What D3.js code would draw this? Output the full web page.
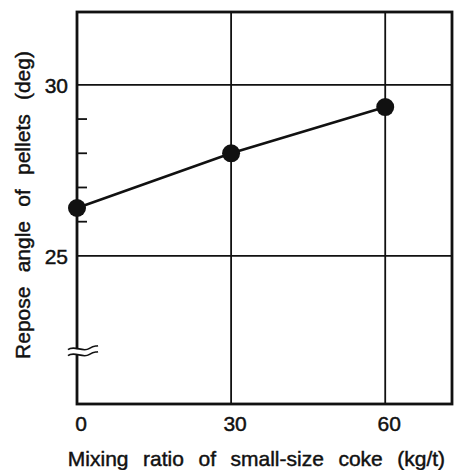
<!DOCTYPE html>
<html><head><meta charset="utf-8">
<script src="https://cdn.jsdelivr.net/npm/d3@7"></script>
<style>body{margin:0;background:#fff}svg{display:block}text{font-family:"Liberation Sans",Arial,sans-serif;fill:#111;stroke:#111;stroke-width:0.45px}</style>
</head><body>
<script>
const mixingRatio = [0, 30, 60];
const reposeAngle = [26.4, 28.0, 29.35];
const xTicks = [0, 30, 60];
const yTicks = [25, 30];
const yMinorTicks = [26, 27, 28, 29];
const xDomain = [0, 73];
const yDomain = [20.67, 32.13];
const yBreakValue = 22.2;
const xTitle = "Mixing ratio of small-size coke (kg/t)";
const yTitle = "Repose angle of pellets (deg)";

const W = 454, H = 470;
const svg = d3.select("body").append("svg").attr("width", W).attr("height", H);
const x = d3.scaleLinear().domain(xDomain).range([77, 452]);
const y = d3.scaleLinear().domain(yDomain).range([404, 12]);
const ink = "#111";

// grid lines
svg.append("g").selectAll("line").data(xTicks.filter(d => d > 0)).join("line")
  .attr("x1", d => x(d)).attr("x2", d => x(d)).attr("y1", y(yDomain[1])).attr("y2", y(yDomain[0]))
  .attr("stroke", ink).attr("stroke-width", 1.8);
svg.append("g").selectAll("line").data(yTicks).join("line")
  .attr("x1", x(xDomain[0])).attr("x2", x(xDomain[1])).attr("y1", d => y(d)).attr("y2", d => y(d))
  .attr("stroke", ink).attr("stroke-width", 1.8);

// minor ticks (inward)
svg.append("g").selectAll("line").data(yMinorTicks).join("line")
  .attr("x1", x(0)).attr("x2", x(0) + 10).attr("y1", d => y(d)).attr("y2", d => y(d))
  .attr("stroke", ink).attr("stroke-width", 1.8);

// frame
svg.append("rect").attr("x", x(xDomain[0])).attr("y", y(yDomain[1]))
  .attr("width", x(xDomain[1]) - x(xDomain[0])).attr("height", y(yDomain[0]) - y(yDomain[1]))
  .attr("fill", "none").attr("stroke", ink).attr("stroke-width", 2.8);

// axis break
const yb = y(yBreakValue);
svg.append("rect").attr("x", x(0) - 3).attr("y", yb - 2.5).attr("width", 6).attr("height", 5).attr("fill", "#fff");
const wave = (dy) => `M${x(0)-9},${yb+dy+1} C${x(0)-3},${yb+dy-4} ${x(0)+6},${yb+dy+4} ${x(0)+12},${yb+dy} S${x(0)+18},${yb+dy-2} ${x(0)+21},${yb+dy-3}`;
[-3, 3].forEach(dy => svg.append("path").attr("d", wave(dy)).attr("fill", "none").attr("stroke", ink).attr("stroke-width", 1.6));

// data line + points
const pts = mixingRatio.map((m, i) => [m, reposeAngle[i]]);
svg.append("path").datum(pts)
  .attr("d", d3.line().x(d => x(d[0])).y(d => y(d[1])))
  .attr("fill", "none").attr("stroke", ink).attr("stroke-width", 2.6);
svg.append("g").selectAll("circle").data(pts).join("circle")
  .attr("cx", d => x(d[0])).attr("cy", d => y(d[1])).attr("r", 9).attr("fill", ink);

// tick labels
svg.append("g").selectAll("text").data(xTicks).join("text")
  .attr("x", d => x(d) + 4).attr("y", 431).attr("text-anchor", "middle")
  .attr("font-size", 21).text(d => d);
svg.append("g").selectAll("text").data(yTicks).join("text")
  .attr("x", 68).attr("y", d => y(d) + 8).attr("text-anchor", "end")
  .attr("font-size", 21).text(d => d);

// titles
svg.append("text").attr("x", 256.5).attr("y", 466).attr("text-anchor", "middle")
  .attr("font-size", 21).attr("word-spacing", 8.7).text(xTitle);
svg.append("text").attr("transform", "translate(30,205) rotate(-90)").attr("text-anchor", "middle")
  .attr("font-size", 21).attr("word-spacing", 8.4).text(yTitle);
</script>
</body></html>
